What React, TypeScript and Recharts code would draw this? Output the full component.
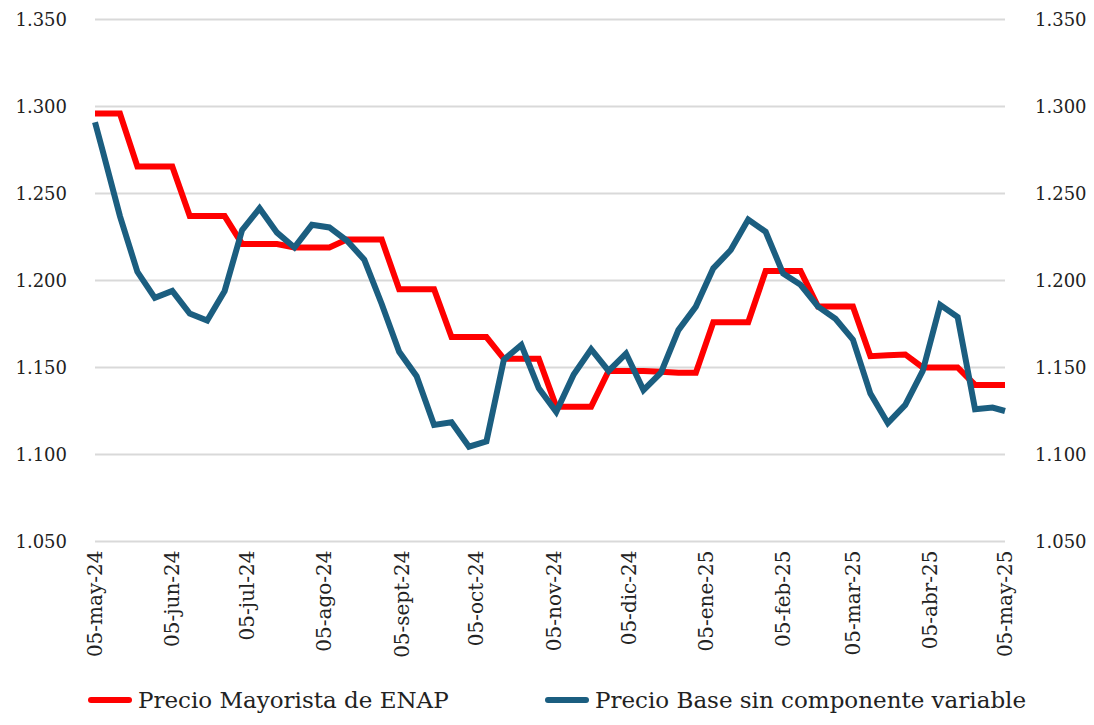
import React from 'react';
import {
  LineChart,
  Line,
  XAxis,
  YAxis,
  CartesianGrid,
  Legend,
} from 'recharts';

// days since 05-may-24
const DAYS = [
  0, 3, 10, 17, 24, 31, 38, 45, 52, 59, 66, 73, 80, 87, 94, 101, 108, 115, 122,
  129, 136, 143, 150, 157, 164, 171, 178, 185, 192, 199, 206, 213, 220, 227,
  234, 241, 248, 255, 262, 269, 276, 283, 290, 297, 304, 311, 318, 325, 332,
  339, 346, 353, 360, 365,
];

const ENAP = [
  1296, 1296, 1296, 1265.5, 1265.5, 1265.5, 1237, 1237, 1237, 1221, 1221, 1221,
  1219, 1219, 1219, 1223.5, 1223.5, 1223.5, 1195, 1195, 1195, 1167.5, 1167.5,
  1167.5, 1155, 1155, 1155, 1127.5, 1127.5, 1127.5, 1148, 1148, 1148, 1147.5,
  1147, 1147, 1176, 1176, 1176, 1205.5, 1205.5, 1205.5, 1185, 1185, 1185,
  1156.5, 1157, 1157.5, 1150, 1150, 1150, 1140, 1140, 1140,
];

const BASE = [
  1291, 1275, 1237, 1205, 1190, 1194, 1181, 1177, 1194, 1229, 1241.5, 1227.5,
  1219, 1232, 1230.5, 1223, 1212, 1186.5, 1159, 1145, 1117, 1118.5, 1104.5,
  1107.5, 1154.5, 1163, 1138, 1124.5, 1146, 1160.5, 1148, 1158, 1137, 1147,
  1171.5, 1185, 1207, 1217.5, 1235, 1228, 1204, 1197.5, 1185, 1178, 1166, 1135,
  1118, 1128.5, 1148, 1186, 1179, 1126, 1127, 1125,
];

const MONTH_TICKS = [0, 31, 61, 92, 123, 153, 184, 214, 245, 276, 304, 335, 365];
const MONTH_LABELS = [
  '05-may-24', '05-jun-24', '05-jul-24', '05-ago-24', '05-sept-24', '05-oct-24',
  '05-nov-24', '05-dic-24', '05-ene-25', '05-feb-25', '05-mar-25', '05-abr-25',
  '05-may-25',
];

const Y_TICKS = [1050, 1100, 1150, 1200, 1250, 1300, 1350];

const SERIES = [
  { key: 'enap', name: 'Precio Mayorista de ENAP', color: '#ff0000' },
  { key: 'base', name: 'Precio Base sin componente variable', color: '#1b5e80' },
];

const FONT = "'DejaVu Serif', serif";
const TEXT = '#222222';

const data = DAYS.map((d, i) => ({ day: d, enap: ENAP[i], base: BASE[i] }));

const fmt = (v: number) =>
  `${Math.floor(v / 1000)}.${String(v % 1000).padStart(3, '0')}`;

const MonthTick = (props: any) => {
  const { x, y, payload } = props;
  const idx = MONTH_TICKS.indexOf(payload.value);
  return (
    <g transform={`translate(${x},${y})`}>
      <text
        x={-7}
        y={0}
        dy="0.35em"
        transform="rotate(-90)"
        textAnchor="end"
        style={{ fontFamily: FONT }}
        fontSize={20}
        fill={TEXT}
      >
        {MONTH_LABELS[idx]}
      </text>
    </g>
  );
};

const renderLegend = () => (
  <div
    style={{
      display: 'flex',
      alignItems: 'center',
      height: 50,
      paddingLeft: 80,
      fontFamily: FONT,
      fontSize: 23,
      color: TEXT,
    }}
  >
    {SERIES.map((s, i) => (
      <div
        key={s.key}
        style={{ display: 'flex', alignItems: 'center', width: i === 0 ? 457 : 'auto' }}
      >
        <span
          style={{
            display: 'inline-block',
            width: 44,
            height: 6,
            background: s.color,
            borderRadius: 3,
            marginRight: 6,
          }}
        />
        <span>{s.name}</span>
      </div>
    ))}
  </div>
);

export default function App() {
  return (
    <div style={{ width: 1086, height: 717, fontFamily: FONT }}>
      <LineChart
        width={1086}
        height={717}
        data={data}
        margin={{ top: 11.5, right: 0, left: 0, bottom: 0 }}
        style={{ fontFamily: FONT }}
      >
        <CartesianGrid vertical={false} stroke="#d9d9d9" strokeWidth={2} />
        <XAxis
          dataKey="day"
          type="number"
          domain={[0, 365]}
          ticks={MONTH_TICKS}
          tick={<MonthTick />}
          interval={0}
          axisLine={false}
          tickLine={false}
          tickSize={0}
          height={133.5}
        />
        <YAxis
          domain={[1050, 1350]}
          ticks={Y_TICKS}
          tickFormatter={fmt}
          axisLine={false}
          tickLine={false}
          tickSize={0}
          tickMargin={28}
          width={87}
          tick={{ style: { fontFamily: FONT }, fontSize: 18, fill: TEXT }}
        />
        <YAxis
          yAxisId="right"
          orientation="right"
          domain={[1050, 1350]}
          ticks={Y_TICKS}
          tickFormatter={fmt}
          axisLine={false}
          tickLine={false}
          tickSize={0}
          tickMargin={30}
          width={89}
          tick={{ style: { fontFamily: FONT }, fontSize: 18, fill: TEXT, textAnchor: 'start' }}
        />
        <Legend verticalAlign="bottom" height={50} content={renderLegend} />
        <Line
          type="linear"
          dataKey="enap"
          name={SERIES[0].name}
          stroke={SERIES[0].color}
          strokeWidth={6}
          dot={false}
          isAnimationActive={false}
        />
        <Line
          type="linear"
          dataKey="base"
          yAxisId="right"
          name={SERIES[1].name}
          stroke={SERIES[1].color}
          strokeWidth={6}
          dot={false}
          isAnimationActive={false}
        />
      </LineChart>
    </div>
  );
}
